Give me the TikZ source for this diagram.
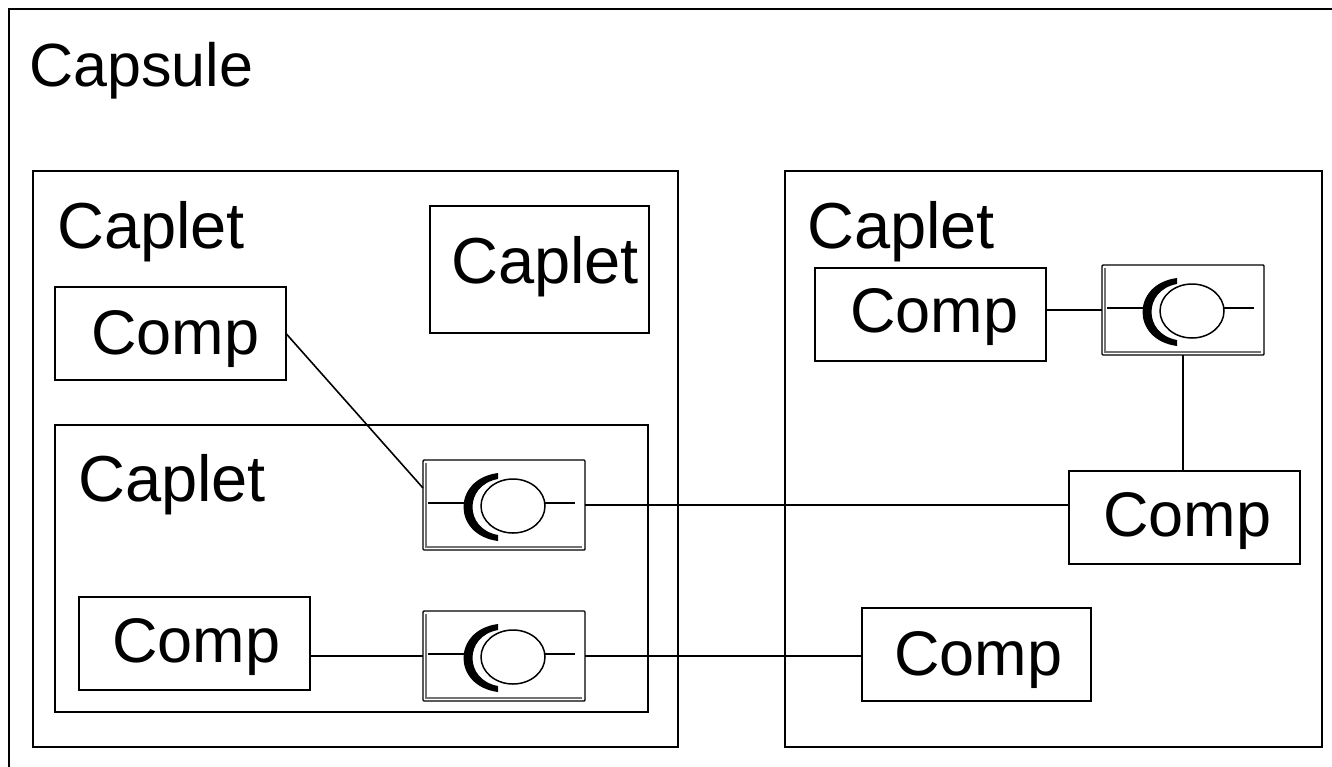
\documentclass[tikz,border=0pt]{standalone}
\usepackage{fontspec}
\setmainfont{Liberation Sans}
\tikzset{
  x=1pt,y=-1pt,
  frame/.style={draw=black,line width=1.7pt,fill=white,inner sep=0pt,outer sep=0pt,anchor=north west},
  wire/.style={draw=black,line width=1.6pt},
  lbl/.style={inner sep=0pt,anchor=base west,font=\fontsize{63}{70}\selectfont,text=black},
  capl/.style={lbl,font=\fontsize{65}{70}\selectfont},
  ifbox/.style={draw=black,line width=1.4pt,fill=white,rounded corners=1pt,outer sep=0pt,minimum width=162pt,minimum height=90pt,inner sep=0pt},
}
\newcommand{\ifglyph}[1]{%
  \begin{scope}[shift={(#1.center)}]
    \draw[black!55,line width=1.2pt] (-78,-42) -- (-78,42) -- (78,42);
    \draw[black,line width=1.6pt] (-76,-2) -- (-39,-2);
    \draw[black,line width=1.6pt] (41,-2) -- (71,-2);
    \fill[black] (-6,-32) .. controls (-52,-26) and (-52,30) .. (-6,36)
      -- (-6,30) .. controls (-40,24) and (-40,-20) .. (-6,-26) -- cycle;
    \draw[black,line width=1.5pt,fill=white] (9,1) ellipse [x radius=32,y radius=27];
  \end{scope}
}
\begin{document}
\begin{tikzpicture}
\useasboundingbox (0,0) rectangle (1332,766);
\fill[white] (0,0) rectangle (1332,766);
\draw[draw=black,line width=1.7pt] (9,775) -- (9,9) -- (1340,9);
\node[lbl,font=\fontsize{61}{70}\selectfont] (capsule) at (29,86) {Capsule};
\node[frame,minimum width=645pt,minimum height=576pt] (c1) at (33,171) {};
\node[frame,minimum width=537pt,minimum height=576pt] (c2) at (785,171) {};
\node[capl] (t1) at (57,248) {Caplet};
\node[capl] (t2) at (807,248) {Caplet};
\node[frame,minimum width=219pt,minimum height=127pt] (c3) at (430,206) {};
\node[capl] (t3) at (451,283) {Caplet};
\node[frame,minimum width=231pt,minimum height=93pt] (p1) at (55,287) {};
\node[lbl] (l1) at (91,354) {Comp};
\node[frame,minimum width=593pt,minimum height=287pt] (c4) at (55,425) {};
\node[capl] (t4) at (78,501) {Caplet};
\node[frame,minimum width=231pt,minimum height=93pt] (p2) at (79,597) {};
\node[lbl] (l2) at (112,662) {Comp};
\node[frame,minimum width=231pt,minimum height=93pt] (p3) at (815,268) {};
\node[lbl] (l3) at (850,332) {Comp};
\node[frame,minimum width=231pt,minimum height=93pt] (p4) at (1069,471) {};
\node[lbl] (l4) at (1103,536) {Comp};
\node[frame,minimum width=229pt,minimum height=93pt] (p5) at (862,608) {};
\node[lbl] (l5) at (894,675) {Comp};
\node[ifbox] (i1) at (504,505) {};
\node[ifbox] (i2) at (504,656) {};
\node[ifbox] (i3) at (1183,310) {};
\coordinate (a2) at ([yshift=17pt]i1.west);
\draw[wire] (p1.east) -- (a2);
\draw[wire] (i1.east) -- (p4.west |- i1.east);
\draw[wire] (p2.east |- i2.west) -- (i2.west);
\draw[wire] (i2.east) -- (p5.west |- i2.east);
\draw[wire] (p3.east |- i3.west) -- (i3.west);
\draw[wire] (i3.south) -- (i3.south |- p4.north);
\ifglyph{i1}\ifglyph{i2}\ifglyph{i3}
\end{tikzpicture}
\end{document}
